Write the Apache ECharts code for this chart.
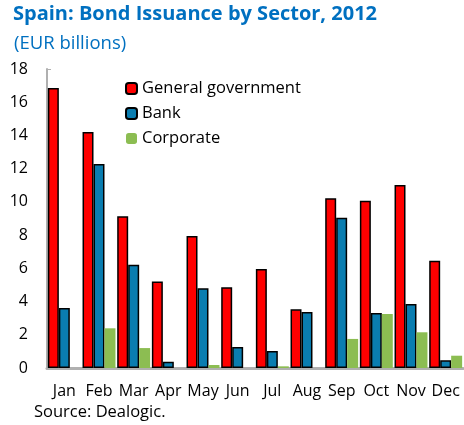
<!DOCTYPE html>
<html><head><meta charset="utf-8">
<script src="https://cdn.jsdelivr.net/npm/echarts@6/dist/echarts.min.js"></script>
<style>html,body{margin:0;padding:0;background:#fff}#c{width:464px;height:425px}</style>
</head><body><div id="c"></div>
<script>
const months = ['Jan','Feb','Mar','Apr','May','Jun','Jul','Aug','Sep','Oct','Nov','Dec'];
const generalGovernment = [16.85, 14.2, 9.13, 5.2, 7.95, 4.86, 5.96, 3.53, 10.22, 10.07, 11.02, 6.46];
const bank = [3.61, 12.28, 6.22, 0.38, 4.8, 1.26, 1.02, 3.37, 9.05, 3.31, 3.85, 0.46];
const corporate = [0, 2.39, 1.2, 0, 0.18, 0, 0.1, 0, 1.75, 3.25, 2.15, 0.74];

const FONT = 'Open Sans';
const chart = echarts.init(document.getElementById('c'));
const barCommon = {type: 'bar', barGap: '0%', barCategoryGap: '5%'};
chart.setOption({
  animation: false,
  textStyle: {fontFamily: FONT},
  title: [
    {text: 'Spain: Bond Issuance by Sector, 2012', left: 13, top: 4, padding: 0,
     textStyle: {fontFamily: FONT, fontSize: 20, fontWeight: 'bold', color: '#0070C0'}},
    {text: '(EUR billions)', left: 14, top: 34, padding: 0,
     textStyle: {fontFamily: FONT, fontSize: 18.5, fontWeight: 'normal', color: '#0070C0'}},
    {text: 'Source: Dealogic.', left: 34, top: 404, padding: 0,
     textStyle: {fontFamily: FONT, fontSize: 16.5, fontWeight: 'normal', color: '#000'}}
  ],
  legend: {
    orient: 'vertical', left: 125, top: 78, padding: 0,
    itemWidth: 11, itemHeight: 11, itemGap: 4,
    textStyle: {fontFamily: FONT, fontSize: 16.5, color: '#000', lineHeight: 21},
    data: ['General government', 'Bank', 'Corporate']
  },
  grid: {left: 47, right: 1, top: 69, bottom: 57},
  xAxis: {
    type: 'category', data: months,
    axisLine: {lineStyle: {color: '#B0B0B0', width: 3}},
    axisTick: {show: false},
    axisLabel: {color: '#000', fontSize: 16, margin: 15, interval: 0, fontFamily: FONT}
  },
  yAxis: {
    type: 'value', min: 0, max: 18, interval: 2,
    splitLine: {show: false},
    axisLine: {show: true, lineStyle: {color: '#B0B0B0', width: 2}},
    axisTick: {show: true, inside: true, length: 4, lineStyle: {color: '#B0B0B0'}},
    axisLabel: {color: '#000', fontSize: 16, margin: 19, fontFamily: FONT}
  },
  series: [
    Object.assign({name: 'General government', data: generalGovernment,
     itemStyle: {color: '#FF0000', borderColor: '#000', borderWidth: 1.5}}, barCommon),
    Object.assign({name: 'Bank', data: bank,
     itemStyle: {color: '#0A7DB0', borderColor: '#000', borderWidth: 1.5}}, barCommon),
    Object.assign({name: 'Corporate', data: corporate,
     itemStyle: {color: '#8CBD52'}}, barCommon)
  ]
});
</script></body></html>
